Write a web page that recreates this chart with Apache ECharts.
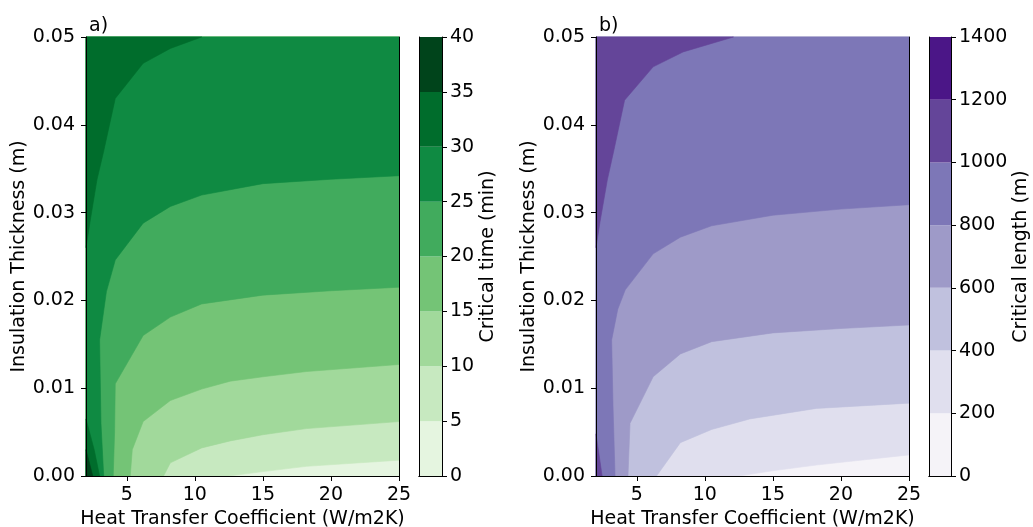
<!DOCTYPE html>
<html>
<head>
<meta charset="utf-8">
<script src="https://cdn.jsdelivr.net/npm/echarts@6/dist/echarts.min.js"></script>
<style>
html, body { margin: 0; padding: 0; background: #fff; }
#chart { width: 1033px; height: 527px; }
</style>
</head>
<body>
<div id="chart"></div>
<script>
// axis ranges and ticks
var xRange = [2, 25];
var yRange = [0, 0.05];
var xTicks = [5, 10, 15, 20, 25];

// contour levels and colours
var timeLevels = [0, 5, 10, 15, 20, 25, 30, 35, 40];
var timeColors = ['#e5f5e0', '#c7e9c0', '#a1d99b', '#74c476', '#41ab5d', '#0f8a42', '#006d2c', '#00441b'];
var lengthLevels = [0, 200, 400, 600, 800, 1000, 1200, 1400];
var lengthColors = ['#f5f3f8', '#e0dfee', '#c0c1de', '#9e9ac8', '#7d77b7', '#644599', '#4b1687'];

// a) critical time contour lines [h, thickness]
var time5 = [[12.5, 0], [15, 0.0005], [18.2, 0.0011], [25, 0.0018]];
var time10 = [[7.7, 0], [8.2, 0.0015], [10.5, 0.0032], [12.6, 0.0040], [15, 0.0047], [18.2, 0.0054], [25, 0.0062]];
var time15 = [[5.25, 0], [5.4, 0.003], [6.2, 0.0062], [8.2, 0.0086], [10.5, 0.0099], [12.6, 0.0108], [15, 0.0113], [18.2, 0.0119], [25, 0.0127]];
var time20 = [[4.0, 0], [4.1, 0.005], [4.15, 0.0105], [6.2, 0.016], [8.2, 0.0181], [10.5, 0.0196], [15, 0.0206], [20, 0.0211], [25, 0.0215]];
var time25 = [[3.3, 0], [3.1, 0.006], [3.0, 0.0155], [3.5, 0.021], [4.15, 0.0246], [6.2, 0.0288], [8.2, 0.0307], [10.5, 0.032], [15, 0.0333], [20, 0.0338], [25, 0.0342]];
var time30Top = [[10.5, 0.05], [8.2, 0.0487], [6.2, 0.047], [4.15, 0.043], [3.3, 0.037], [2.8, 0.0337], [2.3, 0.029], [2.0, 0.026]];
var time30Bottom = [[2.0, 0.0065], [2.6, 0.003], [3.0, 0]];
var time35Bottom = [[2.0, 0.003], [2.5, 0]];

// b) critical length contour lines
var length200 = [[12.5, 0], [15, 0.0006], [18.2, 0.00125], [25, 0.0024]];
var length400 = [[6.45, 0], [8.2, 0.0038], [10.5, 0.0053], [13.3, 0.0065], [18.2, 0.0077], [25, 0.0083]];
var length600 = [[4.35, 0], [4.5, 0.006], [6.2, 0.0113], [8.2, 0.0139], [10.5, 0.0153], [15, 0.0163], [20, 0.0168], [25, 0.0172]];
var length800 = [[3.4, 0], [3.25, 0.008], [3.15, 0.0155], [3.6, 0.019], [4.15, 0.0212], [6.2, 0.0253], [8.2, 0.0272], [10.5, 0.0285], [15, 0.0297], [20, 0.0304], [25, 0.0309]];
var length1000Top = [[12.1, 0.05], [8.4, 0.0483], [6.2, 0.0466], [4.1, 0.0428], [3.3, 0.037], [2.83, 0.0337], [2.3, 0.029], [2.0, 0.026]];
var length1000Bottom = [[2.0, 0.0048], [2.45, 0]];

var topLeft = [xRange[0], yRange[1]];
var topRight = [xRange[1], yRange[1]];
var bottomLeft = [xRange[0], yRange[0]];
var bottomRight = [xRange[1], yRange[0]];

// region on the high side of a line running bottom edge -> right edge
function aboveLine(line) { return line.concat([topRight, topLeft, bottomLeft]); }
function topCorner(line) { return line.concat([topLeft]); }
function bottomCorner(line) { return line.concat([bottomLeft]); }
function wholeBox() { return [bottomLeft, bottomRight, topRight, topLeft]; }

var timeLayers = [
    { points: wholeBox(), color: timeColors[0] },
    { points: aboveLine(time5), color: timeColors[1] },
    { points: aboveLine(time10), color: timeColors[2] },
    { points: aboveLine(time15), color: timeColors[3] },
    { points: aboveLine(time20), color: timeColors[4] },
    { points: aboveLine(time25), color: timeColors[5] },
    { points: topCorner(time30Top), color: timeColors[6] },
    { points: bottomCorner(time30Bottom), color: timeColors[6] },
    { points: bottomCorner(time35Bottom), color: timeColors[7] }
];
var lengthLayers = [
    { points: wholeBox(), color: lengthColors[0] },
    { points: aboveLine(length200), color: lengthColors[1] },
    { points: aboveLine(length400), color: lengthColors[2] },
    { points: aboveLine(length600), color: lengthColors[3] },
    { points: aboveLine(length800), color: lengthColors[4] },
    { points: topCorner(length1000Top), color: lengthColors[5] },
    { points: bottomCorner(length1000Bottom), color: lengthColors[5] }
];

var font = 'DejaVu Sans';
var fontSize = 19;
var black = '#000';

function contourSeries(layers, axisIdx) {
    return {
        type: 'custom',
        xAxisIndex: axisIdx,
        yAxisIndex: axisIdx,
        silent: true,
        z: 2,
        data: layers.map(function () { return [xRange[0], yRange[0]]; }),
        renderItem: function (params, api) {
            var layer = layers[params.dataIndex];
            var pts = layer.points.map(function (p) { return api.coord(p); });
            return {
                type: 'polygon',
                shape: { points: pts },
                style: { fill: layer.color, stroke: layer.color, lineWidth: 0.6 }
            };
        }
    };
}

function colorbarSeries(levels, colors, xIdx, yIdx) {
    var out = [];
    for (var i = 0; i < colors.length; i++) {
        out.push({
            type: 'bar',
            xAxisIndex: xIdx,
            yAxisIndex: yIdx,
            stack: 'cb' + xIdx,
            barWidth: '100%',
            silent: true,
            itemStyle: { color: colors[i] },
            data: [levels[i + 1] - levels[i]]
        });
    }
    return out;
}

var lineOnly = {
    axisLine: { show: true, lineStyle: { color: black, width: 1 } },
    axisTick: { show: false },
    axisLabel: { show: false },
    splitLine: { show: false }
};

function plotX(gridIdx) {
    return {
        type: 'value', gridIndex: gridIdx, min: xRange[0], max: xRange[1], z: 10,
        name: 'Heat Transfer Coefficient (W/m2K)', nameLocation: 'middle', nameGap: 28,
        nameTextStyle: { fontFamily: font, fontSize: fontSize, color: black },
        axisLine: { show: true, onZero: false, lineStyle: { color: black, width: 1 } },
        axisTick: { show: true, length: 5, lineStyle: { color: black }, customValues: xTicks },
        axisLabel: { fontFamily: font, fontSize: fontSize, color: black, margin: 10, customValues: xTicks },
        splitLine: { show: false }
    };
}
function plotY(gridIdx) {
    return {
        type: 'value', gridIndex: gridIdx, min: yRange[0], max: yRange[1], interval: 0.01, z: 10,
        name: 'Insulation Thickness (m)', nameLocation: 'middle', nameGap: 56,
        nameTextStyle: { fontFamily: font, fontSize: fontSize, color: black },
        axisLine: { show: true, onZero: false, lineStyle: { color: black, width: 1 } },
        axisTick: { show: true, length: 5, lineStyle: { color: black } },
        axisLabel: { fontFamily: font, fontSize: fontSize, color: black, margin: 11,
            formatter: function (v) { return v.toFixed(2); } },
        splitLine: { show: false }
    };
}
function frameX(gridIdx, pos, extra) {
    return Object.assign({ gridIndex: gridIdx, position: pos, z: 10 }, lineOnly, extra);
}
function cbY(gridIdx, levels, step, name, nameGap) {
    return {
        type: 'value', gridIndex: gridIdx, position: 'right', min: levels[0], max: levels[levels.length - 1],
        interval: step, z: 10,
        name: name, nameLocation: 'middle', nameGap: nameGap, nameRotate: 90,
        nameTextStyle: { fontFamily: font, fontSize: fontSize, color: black },
        axisLine: { show: true, lineStyle: { color: black, width: 1 } },
        axisTick: { show: true, length: 5, lineStyle: { color: black } },
        axisLabel: { fontFamily: font, fontSize: fontSize, color: black, margin: 8,
            formatter: function (v) { return String(v); } },
        splitLine: { show: false }
    };
}

function makeGrid(left, width) {
    return { left: left, top: 37, width: width, height: 439, containLabel: false, outerBoundsMode: 'none' };
}

var chart = echarts.init(document.getElementById('chart'));
var option = {
    backgroundColor: '#fff',
    animation: false,
    title: [
        { text: 'a)', left: 84, top: 12, textStyle: { fontFamily: font, fontSize: fontSize, fontWeight: 'normal', color: black } },
        { text: 'b)', left: 594, top: 12, textStyle: { fontFamily: font, fontSize: fontSize, fontWeight: 'normal', color: black } }
    ],
    grid: [makeGrid(86, 313), makeGrid(419, 23), makeGrid(596, 313), makeGrid(929, 22)],
    xAxis: [
        plotX(0),
        frameX(0, 'top', { type: 'value', min: xRange[0], max: xRange[1] }),
        frameX(1, 'bottom', { type: 'category', data: [''] }),
        frameX(1, 'top', { type: 'category', data: [''] }),
        plotX(2),
        frameX(2, 'top', { type: 'value', min: xRange[0], max: xRange[1] }),
        frameX(3, 'bottom', { type: 'category', data: [''] }),
        frameX(3, 'top', { type: 'category', data: [''] })
    ],
    yAxis: [
        plotY(0),
        frameX(0, 'right', { type: 'value', min: yRange[0], max: yRange[1] }),
        frameX(1, 'left', { type: 'value', min: timeLevels[0], max: timeLevels[timeLevels.length - 1] }),
        cbY(1, timeLevels, 5, 'Critical time (min)', 36),
        plotY(2),
        frameX(2, 'right', { type: 'value', min: yRange[0], max: yRange[1] }),
        frameX(3, 'left', { type: 'value', min: lengthLevels[0], max: lengthLevels[lengthLevels.length - 1] }),
        cbY(3, lengthLevels, 200, 'Critical length (m)', 58)
    ],
    series: [contourSeries(timeLayers, 0), contourSeries(lengthLayers, 4)]
        .concat(colorbarSeries(timeLevels, timeColors, 2, 3))
        .concat(colorbarSeries(lengthLevels, lengthColors, 6, 7))
};
// the plot series use axis pairs 0/0 and 4/4
option.series[1].yAxisIndex = 4;
chart.setOption(option);
</script>
</body>
</html>
